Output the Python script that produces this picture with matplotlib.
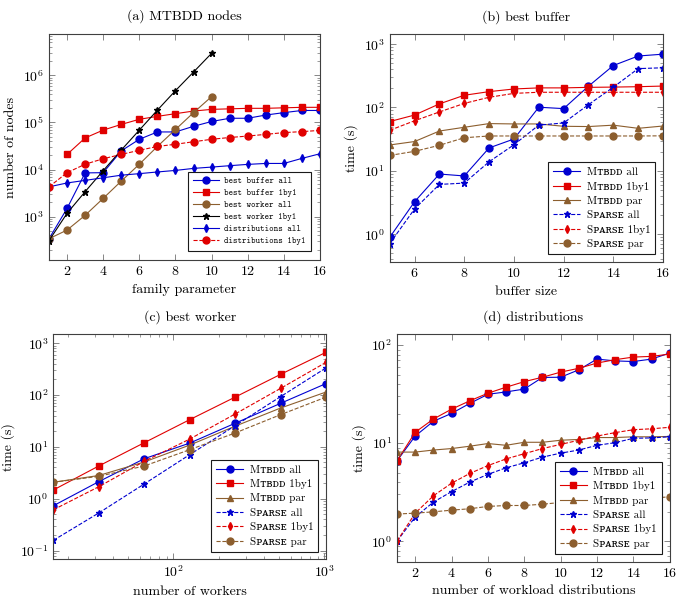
import matplotlib
matplotlib.use("Agg")
import matplotlib.pyplot as plt
from matplotlib.ticker import LogLocator, NullFormatter

plt.rcParams["font.family"] = ["cmr10", "DejaVu Serif"]
plt.rcParams["mathtext.fontset"] = "cm"
plt.rcParams["axes.formatter.use_mathtext"] = True
plt.rcParams["axes.unicode_minus"] = False

# (a) MTBDD nodes
fam = list(range(1, 17))
fam10 = list(range(1, 11))
a_buf_all = [340, 1500, 8500, 8600, 25000, 44000, 63000, 63000, 83000, 105000,
             123000, 123000, 144000, 162000, 180000, 180000]
a_buf_1by1 = [21000, 47000, 69000, 91000, 117000, 135000, 154000, 175000, 190000,
              195000, 200000, 200000, 205000, 210000, 210000]
a_wrk_all = [340, 520, 1070, 2450, 5700, 13000, 31000, 71000, 162000, 355000]
a_wrk_1by1 = [310, 1180, 3400, 9500, 26000, 69000, 183000, 475000, 1180000, 2950000]
a_dist_all = [4300, 5200, 5900, 6700, 7600, 8200, 8900, 9600, 10600, 11300,
              12100, 12900, 13500, 13500, 17300, 21700]
a_dist_1by1 = [4300, 8600, 13000, 17000, 21000, 25700, 31000, 34500, 39000, 44000,
               48000, 51500, 56000, 61000, 64000, 68000]

# (b) best buffer
buf = list(range(5, 17))
b_mt_all = [0.89, 3.25, 8.9, 8.3, 23, 31.8, 101, 96, 217, 460, 650, 695]
b_mt_1by1 = [60, 76, 114, 156, 178, 196, 204, 204, 208, 210, 213, 218]
b_mt_par = [25.6, 29, 42.5, 48.7, 55.7, 55, 55, 50.5, 50, 52.6, 46.9, 51]
b_sp_all = [0.71, 2.5, 6.1, 6.4, 13.9, 25.8, 52.7, 57, 111, 209, 411, 424]
b_sp_1by1 = [43.6, 61.7, 85, 116, 145, 167, 174, 174, 174, 174, 174, 174]
b_sp_par = [17.5, 20.3, 25.3, 33.3, 35.5, 35.5, 35.5, 35.5, 35.5, 35.5, 35.5, 35.7]

# (c) best worker
workers = [16, 32, 64, 128, 256, 512, 1024]
c_mt_all = [0.73, 2.13, 5.9, 11.8, 28.5, 69, 166]
c_mt_1by1 = [1.47, 4.27, 12.0, 33.4, 91, 250, 666]
c_mt_par = [2.07, 2.8, 5.1, 10.8, 25, 56, 114]
c_sp_all = [0.157, 0.53, 1.92, 7.06, 25.6, 93, 333]
c_sp_1by1 = [0.61, 1.70, 5.25, 14.1, 43, 134, 426]
c_sp_par = [2.07, 2.7, 4.27, 8.8, 18.5, 41.7, 91]

# (d) distributions
dist = list(range(1, 17))
d_mt_all = [6.6, 11.8, 16.7, 20.1, 25.4, 31.5, 33.3, 35.6, 46.8, 47, 56, 72, 69, 68, 72, 83]
d_mt_1by1 = [6.6, 12.9, 17.6, 22.2, 27, 32.3, 37.2, 42.4, 47, 53, 58, 65.6, 71, 75.5, 76.7, 81]
d_mt_par = [8.1, 8.1, 8.5, 8.8, 9.3, 9.9, 9.5, 10.2, 10.2, 10.7, 10.9, 11.4, 11.4, 11.6, 11.6, 11.7]
d_sp_all = [1.0, 1.76, 2.5, 3.2, 4.0, 4.8, 5.6, 6.3, 7.2, 7.9, 8.5, 9.5, 10.1, 11.2, 11.3, 11.6]
d_sp_1by1 = [1.0, 1.93, 2.9, 3.9, 4.9, 5.9, 6.9, 7.8, 8.8, 9.7, 10.7, 11.8, 12.8, 13.7, 14.0, 14.5]
d_sp_par = [1.89, 1.93, 1.99, 2.07, 2.14, 2.26, 2.31, 2.31, 2.38, 2.48, 2.55, 2.6, 2.65, 2.7, 2.75, 2.83]

BLUE = "#0000d0"
RED = "#e00000"
BROWN = "#8c5e2e"
SC_M = "M\u1d1b\u0299\u1d05\u1d05"
SC_S = "S\u1d18\u1d00\u0280\ua731\u1d07"

STYLE = {
    "mt_all": dict(color=BLUE, marker="o", ls="-", ms=5),
    "mt_1by1": dict(color=RED, marker="s", ls="-", ms=5),
    "mt_par": dict(color=BROWN, marker="^", ls="-", ms=4.5),
    "sp_all": dict(color=BLUE, marker="*", ls="--", ms=5),
    "sp_1by1": dict(color=RED, marker="d", ls="--", ms=4),
    "sp_par": dict(color=BROWN, marker="o", ls="--", ms=5),
}
TIME_LABELS = {
    "mt_all": f"{SC_M} all", "mt_1by1": f"{SC_M} 1by1", "mt_par": f"{SC_M} par",
    "sp_all": f"{SC_S} all", "sp_1by1": f"{SC_S} 1by1", "sp_par": f"{SC_S} par",
}


def style_axes(ax, logx=False):
    ax.set_yscale("log")
    if logx:
        ax.set_xscale("log")
    ax.tick_params(which="both", direction="in", top=True, right=True,
                   color="0.45", labelsize=10)
    ax.tick_params(which="major", length=4, width=0.6)
    ax.tick_params(which="minor", length=2.2, width=0.5)
    ax.yaxis.set_major_locator(LogLocator(base=10, numticks=20))
    ax.yaxis.set_minor_locator(LogLocator(base=10, subs=range(2, 10), numticks=20))
    ax.yaxis.set_minor_formatter(NullFormatter())
    if not logx:
        ax.xaxis.set_minor_locator(plt.NullLocator())
    for sp in ax.spines.values():
        sp.set_color("0.25")
        sp.set_linewidth(0.8)


def legend(ax, fontsize=8, **kw):
    leg = ax.legend(loc="lower right", fontsize=fontsize, frameon=True, fancybox=False,
                    edgecolor="0.1", framealpha=1, handlelength=2.4, handletextpad=0.6,
                    borderpad=0.45, labelspacing=0.4, borderaxespad=0.7, **kw)
    leg.get_frame().set_linewidth(0.8)
    return leg


fig = plt.figure(figsize=(6.76, 5.97), dpi=100)
ax_a = fig.add_axes([0.0725, 0.5645, 0.4009, 0.3786])
ax_b = fig.add_axes([0.5765, 0.5611, 0.4043, 0.3819])
ax_c = fig.add_axes([0.0789, 0.0631, 0.4034, 0.3769])
ax_d = fig.add_axes([0.5873, 0.0591, 0.4034, 0.3809])

lw = 0.8
# (a)
ax_a.plot(fam, a_buf_all, color=BLUE, marker="o", ms=5, lw=lw, label="best buffer all")
ax_a.plot(fam[1:], a_buf_1by1, color=RED, marker="s", ms=5, lw=lw, label="best buffer 1by1")
ax_a.plot(fam10, a_wrk_all, color=BROWN, marker="o", ms=5, lw=lw, label="best worker all")
ax_a.plot(fam10, a_wrk_1by1, color="black", marker="*", ms=5, lw=lw, label="best worker 1by1")
ax_a.plot(fam, a_dist_all, color=BLUE, marker="d", ms=4, lw=lw, label="distributions all")
ax_a.plot(fam, a_dist_1by1, color=RED, marker="o", ms=5, lw=lw, ls="--",
          label="distributions 1by1")
style_axes(ax_a)
ax_a.set_xlim(1, 16)
ax_a.set_ylim(10 ** 2.08, 10 ** 6.88)
ax_a.set_xticks(range(2, 17, 2))
ax_a.set_title("(a) MTBDD nodes", fontsize=10, pad=10)
ax_a.set_xlabel("family parameter", fontsize=10)
ax_a.set_ylabel("number of nodes", fontsize=10)
leg = ax_a.legend(loc="lower right", prop={"family": "cmtt10", "size": 6.2}, frameon=True,
                  fancybox=False, edgecolor="0.1", framealpha=1, handlelength=3.0,
                  handletextpad=0.6, borderpad=0.6, labelspacing=0.46, borderaxespad=1.1)
leg.get_frame().set_linewidth(0.8)


def time_panel(ax, x, series, logx=False):
    for key, y in series.items():
        ax.plot(x, y, lw=lw, label=TIME_LABELS[key], **STYLE[key])
    style_axes(ax, logx)
    ax.set_ylabel("time (s)", fontsize=10)
    legend(ax)


time_panel(ax_b, buf, {"mt_all": b_mt_all, "mt_1by1": b_mt_1by1, "mt_par": b_mt_par,
                       "sp_all": b_sp_all, "sp_1by1": b_sp_1by1, "sp_par": b_sp_par})
ax_b.set_xlim(5, 16)
ax_b.set_ylim(10 ** -0.44, 10 ** 3.16)
ax_b.set_xticks(range(6, 17, 2))
ax_b.set_title("(b) best buffer", fontsize=10, pad=10)
ax_b.set_xlabel("buffer size", fontsize=10)

time_panel(ax_c, workers, {"mt_all": c_mt_all, "mt_1by1": c_mt_1by1, "mt_par": c_mt_par,
                           "sp_all": c_sp_all, "sp_1by1": c_sp_1by1, "sp_par": c_sp_par},
           logx=True)
ax_c.set_xlim(16, 1024)
ax_c.set_ylim(10 ** -1.17, 10 ** 3.17)
ax_c.xaxis.set_major_locator(LogLocator(base=10, numticks=10))
ax_c.xaxis.set_minor_locator(LogLocator(base=10, subs=range(2, 10), numticks=10))
ax_c.xaxis.set_minor_formatter(NullFormatter())
ax_c.set_title("(c) best worker", fontsize=10, pad=10)
ax_c.set_xlabel("number of workers", fontsize=10)

time_panel(ax_d, dist, {"mt_all": d_mt_all, "mt_1by1": d_mt_1by1, "mt_par": d_mt_par,
                        "sp_all": d_sp_all, "sp_1by1": d_sp_1by1, "sp_par": d_sp_par})
ax_d.set_xlim(1, 16)
ax_d.set_ylim(10 ** -0.21, 10 ** 2.11)
ax_d.set_xticks(range(2, 17, 2))
ax_d.set_title("(d) distributions", fontsize=10, pad=10)
ax_d.set_xlabel("number of workload distributions", fontsize=10)

fig.savefig("out.png", dpi=100, facecolor="white")
